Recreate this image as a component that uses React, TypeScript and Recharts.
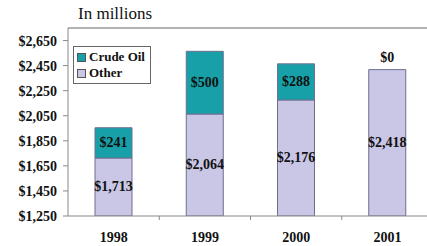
import { BarChart, Bar, XAxis, YAxis, Legend, LabelList, ReferenceLine } from 'recharts';

const years = ['1998', '1999', '2000', '2001'];
const crudeOil = [241, 500, 288, 0];
const other = [1713, 2064, 2176, 2418];
const yTicks = [1250, 1450, 1650, 1850, 2050, 2250, 2450, 2650];

const data = years.map((year, i) => ({ year, other: other[i], crude: crudeOil[i] }));

const W = 440;
const H = 246;
const M = { top: 28, right: 7, left: 0, bottom: 0 };
const Y_AXIS_W = 68;
const X_AXIS_H = 30;
const PLOT_BOTTOM = H - M.bottom - X_AXIS_H;
const HALF_BAND = (W - M.left - M.right - Y_AXIS_W) / years.length / 2;

const TEAL = '#17A0A8';
const LAVENDER = '#C9C6E6';
const EDGE = '#6E6E8E';
const SERIF = '"Liberation Serif", "Times New Roman", serif';
const labelStyle = { fontFamily: SERIF, fontWeight: 700, fontSize: 14, fill: '#111' };

const money = (v: number) => '$' + v.toLocaleString('en-US');

function SegmentLabel(props: any) {
  const vb = props.viewBox || props;
  const { x, y, width, height } = vb;
  const cx = x + width / 2;
  const top = Math.min(y, y + height);
  const bottom = Math.min(Math.max(y, y + height), PLOT_BOTTOM);
  // a zero crude segment gets no rect, so its "$0" sits above the other segment
  const zeroAbove = props.series === 'other' && crudeOil[props.index] === 0;
  return (
    <g>
      <text x={cx} y={(top + bottom) / 2} textAnchor="middle" dominantBaseline="central" style={labelStyle}>
        {money(props.value)}
      </text>
      {zeroAbove && (
        <text x={cx} y={top - 12} textAnchor="middle" dominantBaseline="central" style={labelStyle}>
          {money(0)}
        </text>
      )}
    </g>
  );
}

function YearTick({ x, y, payload, index }: any) {
  return (
    <g>
      {index > 0 && (
        <line x1={x - HALF_BAND} x2={x - HALF_BAND} y1={y} y2={y + 4} stroke="#888" />
      )}
      <text x={x} y={y + 21} textAnchor="middle" dominantBaseline="central" style={labelStyle}>
        {payload.value}
      </text>
    </g>
  );
}

function LegendBox() {
  const items = [
    { label: 'Crude Oil', color: TEAL },
    { label: 'Other', color: LAVENDER },
  ];
  return (
    <div style={{ border: '1px solid #666', background: '#fff', padding: '2px 3px 2px 3px', width: 70 }}>
      {items.map((it) => (
        <div key={it.label} style={{ display: 'flex', alignItems: 'center', height: 16 }}>
          <span style={{ width: 7, height: 7, background: it.color, border: '1px solid #555', marginRight: 3 }} />
          <span style={{ fontFamily: SERIF, fontWeight: 700, fontSize: 13, color: '#111' }}>{it.label}</span>
        </div>
      ))}
    </div>
  );
}

export default function App() {
  return (
    <div style={{ position: 'absolute', left: 0, top: 0, width: 427, height: 246, overflow: 'hidden', background: '#fff' }}>
      <div style={{ position: 'absolute', left: 78, top: 4, fontFamily: SERIF, fontSize: 17, color: '#111' }}>
        In millions
      </div>
      <BarChart width={W} height={H} data={data} margin={M} barSize={37}>
        <ReferenceLine y={2750} stroke="#999" strokeWidth={1.5} />
        <XAxis dataKey="year" height={X_AXIS_H} stroke="#888" tickLine={false} tickSize={0} tickMargin={0}
          tick={<YearTick />} interval={0} />
        <YAxis domain={[1250, 2750]} ticks={yTicks} allowDataOverflow width={Y_AXIS_W} stroke="#888"
          tickSize={5} tickMargin={6} tickFormatter={money}
          tick={{ fontFamily: SERIF, fontWeight: 700, fontSize: 14, fill: '#111' }} />
        <Legend layout="horizontal" verticalAlign="middle" align="center" content={<LegendBox />}
          wrapperStyle={{ left: 73, top: 46, width: 'auto' }} />
        <Bar dataKey="other" stackId="a" fill={LAVENDER} stroke={EDGE} strokeWidth={1} isAnimationActive={false}>
          <LabelList dataKey="other" content={<SegmentLabel series="other" />} />
        </Bar>
        <Bar dataKey="crude" stackId="a" fill={TEAL} stroke={EDGE} strokeWidth={1} isAnimationActive={false}>
          <LabelList dataKey="crude" content={<SegmentLabel series="crude" />} />
        </Bar>
      </BarChart>
    </div>
  );
}
